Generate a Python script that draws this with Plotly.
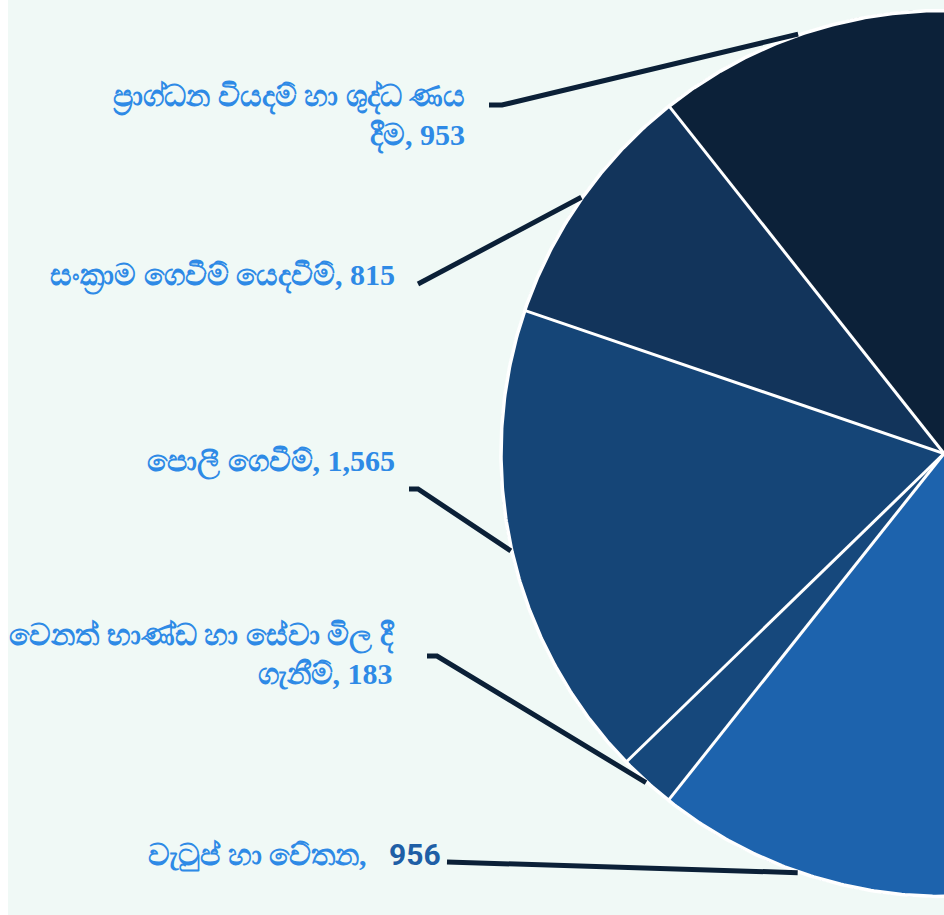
import math
import plotly.graph_objects as go

# ---- data -------------------------------------------------------------
labels = [
    "ප්‍රාග්ධන වියදම් හා ශුද්ධ ණය දීම",
    "සංක්‍රාම ගෙවීම් යෙදවීම්",
    "පොලී ගෙවීම්",
    "වෙනත් භාණ්ඩ හා සේවා මිල දී ගැනීම්",
    "වැටුප් හා වේතන",
]
values = [953, 815, 1565, 183, 956]
label_lines = [
    ["ප්‍රාග්ධන වියදම් හා ශුද්ධ ණය", "දීම"],
    ["සංක්‍රාම ගෙවීම් යෙදවීම්"],
    ["පොලී ගෙවීම්"],
    ["වෙනත් භාණ්ඩ හා සේවා මිල දී", "ගැනීම්"],
    ["වැටුප් හා වේතන"],
]
slice_colors = ["#0c2139", "#12345b", "#154577", "#16487c", "#1d63ad"]

# ---- layout constants (screen pixels) ----------------------------------
OFFX, OFFY = 8, 0            # page body offset of the plot div
W, H = 936, 915              # plot div size
CX, CY = 944, 453.5          # pie centre on screen (right edge of page)
R = 443                      # radius of the slice outline
LINE_R = 444                 # where leader lines start
STEP = math.radians(0.4)

# label anchors on screen: (text right x, text centre y, line end x, elbow x, elbow y)
label_pos = [
    (467, 116, 489, 502, 105),
    (397, 276, 418, 418, 284),
    (397, 462, 409, 418, 489),
    (397, 654, 427, 437, 656),
    (443, 854, 447, 447, 862),
]
number_style = [None, None, None, None, ("Roboto", "#1f5fa6")]
LABEL_FONT = "Liberation Serif, Times New Roman, serif"


def to_data(sx, sy):
    return sx - OFFX, sy - OFFY


def polar(a, r):
    return to_data(CX - r * math.sin(a), CY - r * math.cos(a))


fig = go.Figure()

# semicircular pie: the visible slices fill the left half of the circle
total = sum(values)
cum = 0
bounds = [0.0]
mids = []
for i, v in enumerate(values):
    a0 = cum / total * math.pi
    a1 = (cum + v) / total * math.pi
    cum += v
    bounds.append(a1)
    mids.append((a0 + a1) / 2)
    n = max(8, int((a1 - a0) / STEP))
    c = to_data(CX, CY)
    pts = [c] + [polar(a0 + (a1 - a0) * k / n, R + 1) for k in range(n + 1)] + [c]
    fig.add_trace(go.Scatter(
        x=[p[0] for p in pts], y=[p[1] for p in pts], mode="lines",
        fill="toself", fillcolor=slice_colors[i], line=dict(width=0),
        hoverinfo="skip", name=labels[i], showlegend=False,
    ))

# white separators between slices and the white outer rim
for a in bounds[1:-1]:
    p0 = to_data(CX, CY)
    p1 = polar(a, R + 1)
    fig.add_trace(go.Scatter(
        x=[p0[0], p1[0]], y=[p0[1], p1[1]], mode="lines",
        line=dict(color="white", width=3), hoverinfo="skip", showlegend=False,
    ))
rim_a0, rim_a1 = -0.1, math.pi + 0.1
n = int((rim_a1 - rim_a0) / STEP)
rim = [polar(rim_a0 + (rim_a1 - rim_a0) * k / n, R) for k in range(n + 1)]
fig.add_trace(go.Scatter(
    x=[p[0] for p in rim], y=[p[1] for p in rim], mode="lines",
    line=dict(color="white", width=3.5), hoverinfo="skip", showlegend=False,
))

# leader lines and labels
annotations = []
for i, v in enumerate(values):
    tx, ty, ex, bx, by = label_pos[i]
    p0 = polar(mids[i], LINE_R)
    p1 = to_data(bx, by)
    p2 = to_data(ex, by)
    fig.add_trace(go.Scatter(
        x=[p0[0], p1[0], p2[0]], y=[p0[1], p1[1], p2[1]], mode="lines",
        line=dict(color="#0b2037", width=5), hoverinfo="skip", showlegend=False,
    ))
    num = f"{v:,}"
    ns = number_style[i]
    if ns:
        num_txt = (f"   <span style=\"font-family:{ns[0]};color:{ns[1]};"
                   f"font-weight:bold\">{num}</span>")
    else:
        num_txt = f" {num}"
    lines = list(label_lines[i])
    lines[-1] = lines[-1] + "," + num_txt
    ax, ay = to_data(tx, ty)
    annotations.append(dict(
        x=ax, y=ay, xref="x", yref="y", xanchor="right", yanchor="middle",
        align="right", showarrow=False,
        text="<br>".join(f"<b>{ln}</b>" for ln in lines),
        font=dict(family=LABEL_FONT, size=30, color="#2e8ae6"),
    ))

axis_common = dict(visible=False, showgrid=False, zeroline=False, fixedrange=True)
fig.update_layout(
    width=W, height=H,
    margin=dict(l=0, r=0, t=0, b=0, autoexpand=False),
    paper_bgcolor="#f0f9f6",
    plot_bgcolor="#f0f9f6",
    xaxis=dict(range=[0, W], **axis_common),
    yaxis=dict(range=[H, 0], **axis_common),
    annotations=annotations,
    showlegend=False,
)

fig.write_html(
    "out.html",
    config=dict(displayModeBar=False),
    post_script="document.body.style.margin='0 0 0 8px';document.body.style.overflow='hidden';",
)
